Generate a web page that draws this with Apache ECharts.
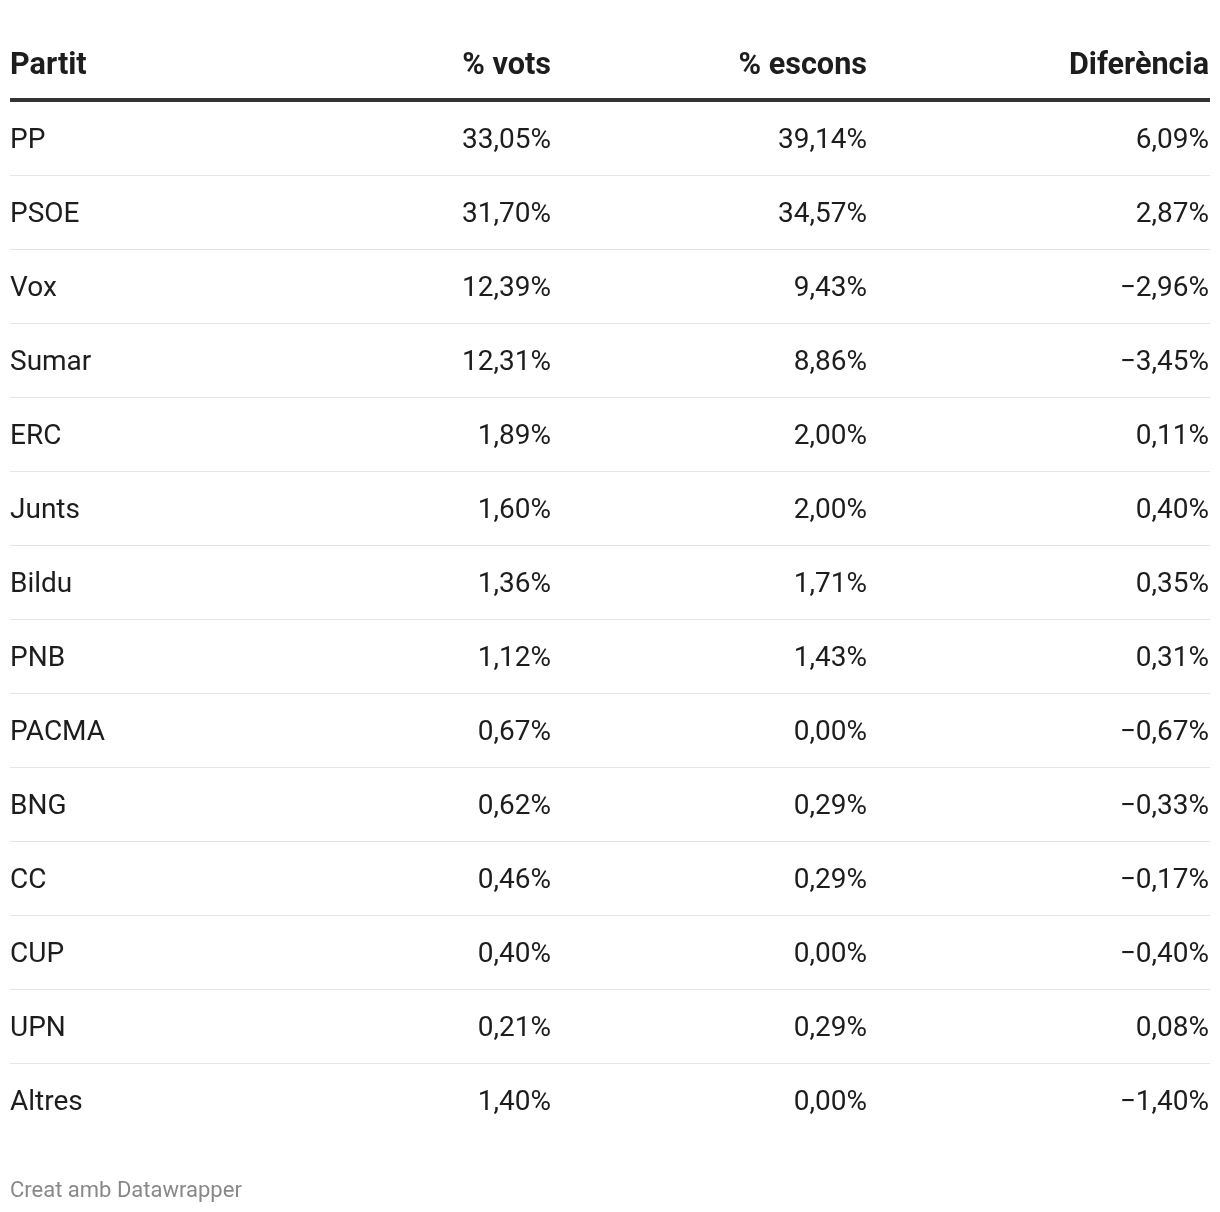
<!DOCTYPE html>
<html>
<head>
<meta charset="utf-8">
<script src="https://cdn.jsdelivr.net/npm/echarts@6/dist/echarts.min.js"></script>
<style>
html,body{margin:0;padding:0;background:#fff;}
#chart{width:1220px;height:1212px;}
</style>
</head>
<body>
<div id="chart"></div>
<script>
const headers = ['Partit', '% vots', '% escons', 'Diferència'];
const parties = ['PP','PSOE','Vox','Sumar','ERC','Junts','Bildu','PNB','PACMA','BNG','CC','CUP','UPN','Altres'];
const votes = [33.05,31.70,12.39,12.31,1.89,1.60,1.36,1.12,0.67,0.62,0.46,0.40,0.21,1.40];
const seats = [39.14,34.57,9.43,8.86,2.00,2.00,1.71,1.43,0.00,0.29,0.29,0.00,0.29,0.00];
const diffs = [6.09,2.87,-2.96,-3.45,0.11,0.40,0.35,0.31,-0.67,-0.33,-0.17,-0.40,0.08,-1.40];
const footer = 'Creat amb Datawrapper';

function fmt(v){
  const s = Math.abs(v).toFixed(2).replace('.', ',') + '%';
  return (v < 0 ? '\u2212' : '') + s;
}

const FONT = 'Roboto, "Noto Sans", sans-serif';
const TEXT = '#1d1d1d';
const SIZE = 28;
const HSIZE = 30.6;
// column anchors in grid-x units (0..1200)
const colX = [0, 541, 857, 1199];
const colAlign = ['left', 'right', 'right', 'right'];

const chart = echarts.init(document.getElementById('chart'), null, {renderer: 'canvas'});

const option = {
  animation: false,
  grid: {left: 10, right: 10, top: 101, height: 1036},
  xAxis: {
    type: 'value', min: 0, max: 1200, position: 'top', offset: 1,
    axisLine: {show: true, onZero: false, lineStyle: {color: '#333', width: 4, cap: 'butt'}},
    axisTick: {show: false}, axisLabel: {show: false}, splitLine: {show: false}
  },
  yAxis: {
    type: 'category', data: parties, inverse: true,
    axisLine: {show: false}, axisTick: {show: false}, axisLabel: {show: false}, splitLine: {show: false}
  },
  graphic: [
    ...headers.map((h, j) => ({
      type: 'text',
      x: 10 + colX[j], y: 66,
      style: {text: h, font: 'bold ' + HSIZE + 'px ' + FONT, fill: TEXT,
        textAlign: colAlign[j], textVerticalAlign: 'middle'}
    })),
    {
      type: 'text', x: 10, y: 1191,
      style: {text: footer, font: '22px ' + FONT, fill: '#888888', textAlign: 'left', textVerticalAlign: 'middle'}
    }
  ],
  series: [{
    type: 'custom',
    clip: false,
    data: parties.map((p, i) => [0, i]),
    encode: {x: 0, y: 1},
    renderItem: function (params, api) {
      const i = api.value(1);
      const c = api.coord([0, i]);
      const h = api.size([0, 1])[1];
      const vals = [parties[i], fmt(votes[i]), fmt(seats[i]), fmt(diffs[i])];
      const children = vals.map((t, j) => ({
        type: 'text',
        x: api.coord([colX[j], i])[0],
        y: c[1] + 3,
        style: {text: t, font: SIZE + 'px ' + FONT, fill: TEXT,
          textAlign: colAlign[j], textVerticalAlign: 'middle'}
      }));
      if (i < parties.length - 1) {
        const x0 = api.coord([0, i])[0];
        const x1 = api.coord([1200, i])[0];
        const yl = Math.round(c[1] + h / 2) + 0.5;
        children.push({
          type: 'line',
          shape: {x1: x0, y1: yl, x2: x1, y2: yl},
          style: {stroke: '#e5e5e5', lineWidth: 1}
        });
      }
      return {type: 'group', children: children};
    }
  }]
};
chart.setOption(option);
</script>
</body>
</html>
